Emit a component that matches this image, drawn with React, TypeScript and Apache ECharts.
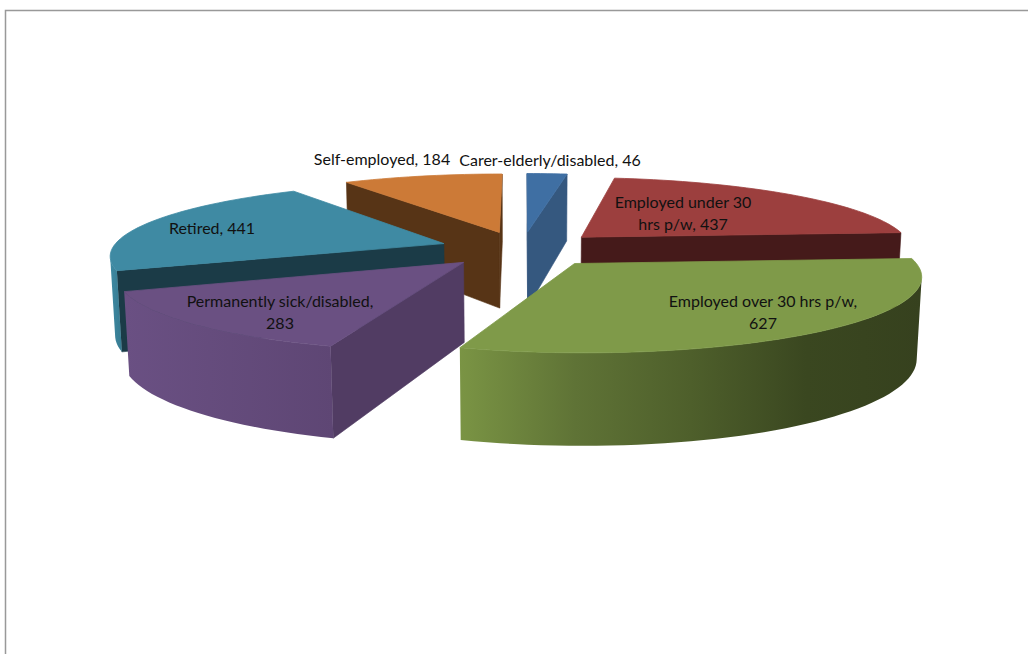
import React, { useEffect, useRef } from "react";
import * as echarts from "echarts";

const categories = [
  "Carer-elderly/disabled",
  "Employed under 30 hrs p/w",
  "Employed over 30 hrs p/w",
  "Permanently sick/disabled",
  "Retired",
  "Self-employed",
];
const seriesValues = [46, 437, 627, 283, 441, 184];
const labelTexts = [
  "Carer-elderly/disabled, 46",
  "Employed under 30\nhrs p/w, 437",
  "Employed over 30 hrs p/w,\n627",
  "Permanently sick/disabled,\n283",
  "Retired, 441",
  "Self-employed, 184",
];

// Slice appearance and layout, indexed like the categories.
const topColors = ["#3f6fa3", "#9c3f3e", "#7f9a49", "#6a5082", "#3f8aa3", "#cc7a37"];
const cutColors = ["#35587f", "#451a1a", "#38431f", "#513c63", "#1b3b47", "#573416"];
const rimStops: string[][] = [
  ["#3f6fa3", "#35587f"],
  ["#6e2d2c", "#451a1a"],
  ["#7a9444", "#5f7336", "#4e5f2b", "#3a4720", "#36411e"],
  ["#6a5083", "#5e4674"],
  ["#3f8aa3", "#367a90"],
  ["#a5622c", "#573416"],
];
const paintRank = [0, 2, 4, 5, 3, 1];
const labelAnchors = [
  [550, 159],
  [683, 212],
  [763, 311],
  [280, 311],
  [212, 227],
  [382, 158],
];

// Projection of the tilted pie onto the page.
const CENTER_X = 522;
const CENTER_Y = 249;
const SCALE_X = 332;
const SCALE_Y = 71.5;
const DEPTH = 0.1468;
const THICKNESS = 79;
const THICKNESS_DEPTH = 0.012;
const EXPLODE = 0.25;

type Pt = [number, number];

function project(x: number, y: number, z: number): Pt {
  const w = 1 + DEPTH * y + THICKNESS_DEPTH * z;
  return [CENTER_X + (x * SCALE_X) / w, CENTER_Y + (-y * SCALE_Y + THICKNESS * z) / w];
}

const total = seriesValues.reduce((a, b) => a + b, 0);

function sliceAngles(index: number): [number, number] {
  let sum = 0;
  for (let i = 0; i < index; i++) sum += seriesValues[i];
  const start = (sum / total) * Math.PI * 2;
  return [start, start + (seriesValues[index] / total) * Math.PI * 2];
}

// True when the wall hanging under the edge p -> q faces the viewer.
function wallVisible(p: Pt, q: Pt, qb: Pt, pb: Pt): boolean {
  const pts = [p, q, qb, pb];
  let area = 0;
  for (let i = 0; i < 4; i++) {
    const a = pts[i];
    const b = pts[(i + 1) % 4];
    area += a[0] * b[1] - b[0] * a[1];
  }
  return area < 0;
}

function renderSlice(params: any) {
  const i = params.dataIndex as number;
  const [a0, a1] = sliceAngles(i);
  const mid = (a0 + a1) / 2;
  const ox = Math.sin(mid) * EXPLODE;
  const oy = Math.cos(mid) * EXPLODE;
  const steps = Math.max(6, Math.ceil(((a1 - a0) * 180) / Math.PI / 2));

  const world: Pt[] = [[ox, oy]];
  for (let s = 0; s <= steps; s++) {
    const t = a0 + ((a1 - a0) * s) / steps;
    world.push([ox + Math.sin(t), oy + Math.cos(t)]);
  }
  const top = world.map((p) => project(p[0], p[1], 0));
  const bottom = world.map((p) => project(p[0], p[1], 1));
  const rank = paintRank[i] * 10;
  const children: any[] = [];

  // Straight cut faces: apex -> first rim point, last rim point -> apex.
  const last = world.length - 1;
  const cutFaces: [number, number][] = [
    [0, 1],
    [last, 0],
  ];
  cutFaces.forEach(([m, n]) => {
    if (wallVisible(top[m], top[n], bottom[n], bottom[m])) {
      children.push({
        type: "polygon",
        z2: rank + 1,
        shape: { points: [top[m], top[n], bottom[n], bottom[m]] },
        style: { fill: cutColors[i], stroke: cutColors[i], lineWidth: 0.6 },
      });
    }
  });

  // Curved rim: join the facing arc steps into a single shaded polygon.
  const upper: Pt[] = [];
  const lower: Pt[] = [];
  for (let s = 1; s < last; s++) {
    if (wallVisible(top[s], top[s + 1], bottom[s + 1], bottom[s])) {
      if (!upper.length) {
        upper.push(top[s]);
        lower.push(bottom[s]);
      }
      upper.push(top[s + 1]);
      lower.push(bottom[s + 1]);
    }
  }
  if (upper.length) {
    const stops = rimStops[i];
    const rimFill = new echarts.graphic.LinearGradient(
      0,
      0,
      1,
      0,
      stops.map((color, k) => ({ offset: k / (stops.length - 1), color }))
    );
    children.push({
      type: "polygon",
      z2: rank + 2,
      shape: { points: [...upper, ...lower.slice().reverse()] },
      style: { fill: rimFill },
    });
  }

  // The stroke closes the hairline between the top face and its walls.
  children.push({
    type: "polygon",
    z2: rank + 3,
    shape: { points: top },
    style: { fill: topColors[i], stroke: topColors[i], lineWidth: 0.8, lineJoin: "round" },
  });

  children.push({
    type: "text",
    z2: 200,
    x: labelAnchors[i][0],
    y: labelAnchors[i][1],
    style: {
      text: labelTexts[i],
      align: "center",
      verticalAlign: "middle",
      lineHeight: 22,
      fill: "#111111",
      font: '16px Lato, "Noto Sans", sans-serif',
    },
  });

  return { type: "group", children };
}

export default function App() {
  const ref = useRef<HTMLDivElement>(null);

  useEffect(() => {
    document.body.style.margin = "0";
    document.body.style.background = "#ffffff";
    const chart = echarts.init(ref.current!, null, { renderer: "svg" });
    chart.setOption({
      animation: false,
      backgroundColor: "#ffffff",
      graphic: [
        {
          type: "polyline",
          z: 0,
          shape: {
            points: [
              [5.5, 654],
              [5.5, 10.5],
              [1028, 10.5],
            ],
          },
          style: { stroke: "#999999", lineWidth: 1.5, fill: "none" },
        },
      ],
      series: [
        {
          type: "custom",
          coordinateSystem: "none",
          renderItem: renderSlice,
          data: seriesValues.map((value, i) => ({ name: categories[i], value })),
        },
      ],
    });
    return () => chart.dispose();
  }, []);

  return <div ref={ref} style={{ width: 1028, height: 654 }} />;
}
